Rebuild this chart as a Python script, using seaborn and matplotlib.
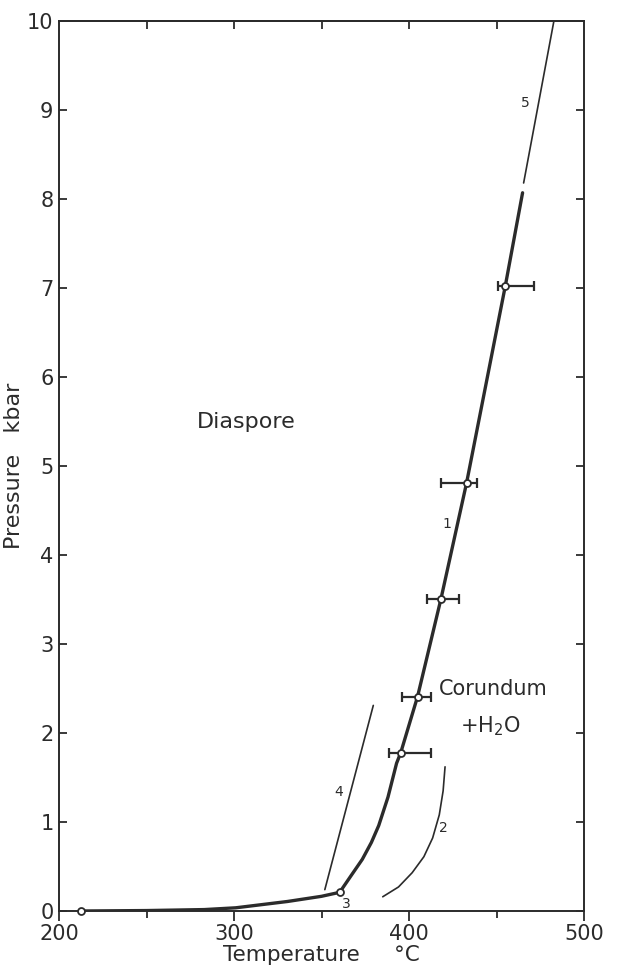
import numpy as np
import pandas as pd
import seaborn as sns
import matplotlib.pyplot as plt

# curve 1: diaspore = corundum + H2O (thick line)
curve1_T = [212.6, 250, 283, 301, 330.6, 350, 360.4, 367.0, 373.3, 378.5, 382.7, 388.0, 392.9, 395.3, 404.9, 418.3, 432.9, 455.0, 464.9]
curve1_P = [0.0, 0.005, 0.016, 0.036, 0.107, 0.165, 0.21, 0.40, 0.58, 0.77, 0.96, 1.28, 1.66, 1.78, 2.41, 3.51, 4.81, 7.02, 8.07]

# curve 5: extrapolation above the thick line
curve5_T = [465.5, 482.8]
curve5_P = [8.18, 10.0]

# curve 4
curve4_T = [351.9, 379.6]
curve4_P = [0.24, 2.31]

# curve 2
curve2_T = [385.0, 394.0, 401.8, 408.5, 413.5, 417.3, 419.5, 420.6]
curve2_P = [0.16, 0.27, 0.43, 0.61, 0.82, 1.08, 1.35, 1.62]

# experimental brackets
exp_T = [395.3, 404.9, 418.3, 432.9, 455.0]
exp_P = [1.78, 2.41, 3.51, 4.81, 7.02]
exp_Tmin = [388.4, 395.9, 410.3, 418.2, 450.8]
exp_Tmax = [412.5, 412.5, 428.8, 438.6, 471.2]

# open circles at the ends of the low-pressure branch
end_T = [212.6, 360.4]
end_P = [0.0, 0.21]

sns.set_style("ticks")
plt.rcParams["font.family"] = ["DejaVu Sans"]
plt.rcParams["axes.linewidth"] = 1.4
col = "#2b2b2b"

fig = plt.figure(figsize=(6.17, 9.74), dpi=100)
ax = fig.add_axes([59 / 617, 1 - 911 / 974, 525 / 617, 890 / 974])

d1 = pd.DataFrame({"T": curve1_T, "P": curve1_P})
sns.lineplot(data=d1, x="T", y="P", sort=False, color=col, lw=2.4, ax=ax)
sns.lineplot(x=curve5_T, y=curve5_P, sort=False, color=col, lw=1.2, ax=ax)
sns.lineplot(x=curve4_T, y=curve4_P, sort=False, color=col, lw=1.2, ax=ax)
sns.lineplot(x=curve2_T, y=curve2_P, sort=False, color=col, lw=1.2, ax=ax)

xerr = [np.array(exp_T) - np.array(exp_Tmin), np.array(exp_Tmax) - np.array(exp_T)]
ax.errorbar(exp_T, exp_P, xerr=xerr, fmt="none", ecolor=col, elinewidth=1.6,
            capsize=3.5, capthick=1.6, zorder=3)
ax.plot(exp_T + end_T, exp_P + end_P, "o", ms=5, mfc="white", mec=col, mew=1.3,
        zorder=4, clip_on=False)

ax.text(306.8, 5.5, "Diaspore", fontsize=16, color=col, ha="center", va="center")
ax.text(448.2, 2.49, "Corundum", fontsize=15, color=col, ha="center", va="center")
ax.text(446.5, 2.08, "+H$_2$O", fontsize=15, color=col, ha="center", va="center")
ax.text(421.7, 4.35, "1", fontsize=10, color=col, ha="center", va="center")
ax.text(419.4, 0.93, "2", fontsize=10, color=col, ha="center", va="center")
ax.text(364.3, 0.08, "3", fontsize=10, color=col, ha="center", va="center")
ax.text(360.0, 1.34, "4", fontsize=10, color=col, ha="center", va="center")
ax.text(466.5, 9.08, "5", fontsize=10, color=col, ha="center", va="center")

ax.set_xlim(200, 500)
ax.set_ylim(0, 10)
ax.set_xticks([200, 300, 400, 500])
ax.set_xticks([250, 350, 450], minor=True)
ax.set_yticks(range(0, 11))
ax.tick_params(axis="x", which="major", direction="out", length=7, width=1.3,
               labelsize=15, colors=col, pad=2)
ax.tick_params(axis="x", which="minor", direction="out", length=5, width=1.3, colors=col)
ax.tick_params(axis="y", direction="in", length=6, width=1.3, labelsize=15,
               colors=col, pad=4, right=True)

top = ax.secondary_xaxis("top")
top.set_xticks([250, 300, 350, 400, 450])
top.tick_params(direction="in", length=6, width=1.3, labelsize=0, labeltop=False, colors=col)
for s in ax.spines.values():
    s.set_color(col)
top.spines["top"].set_color(col)

ax.set_xlabel("Temperature     °C", fontsize=15.5, color=col, labelpad=1)
ax.set_ylabel("Pressure   kbar", fontsize=16, color=col, labelpad=2)

plt.savefig("out.png", dpi=100)
